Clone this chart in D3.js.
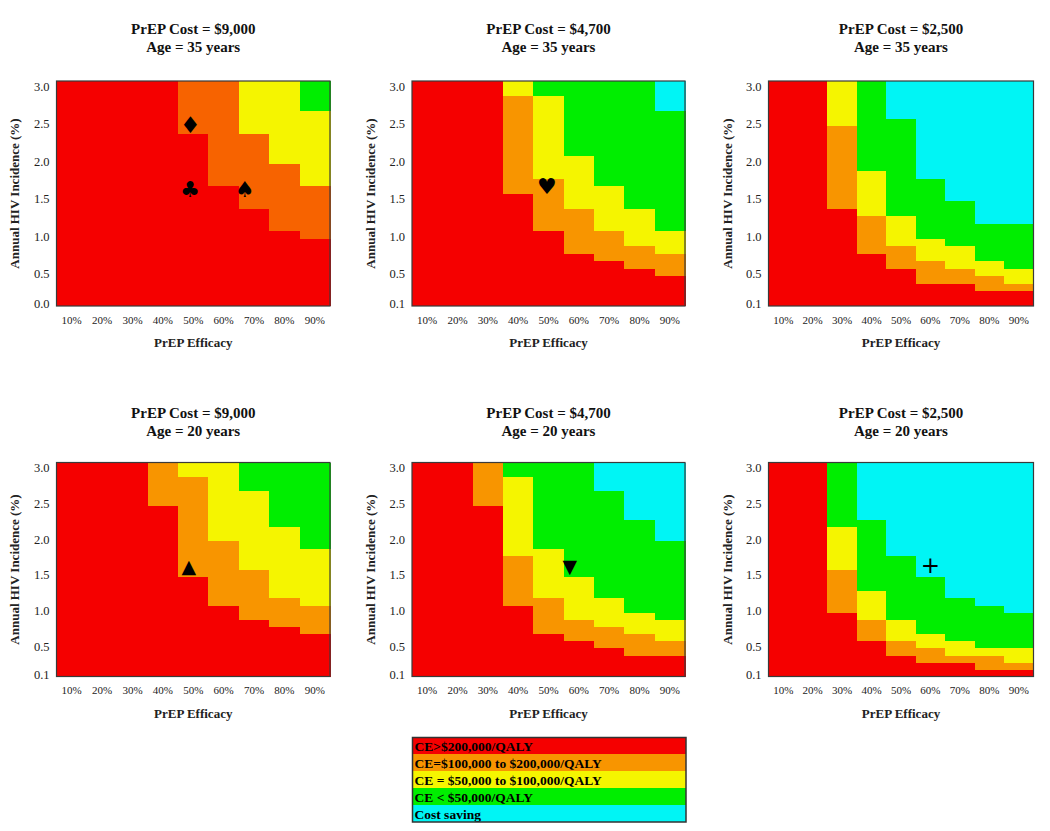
<!DOCTYPE html>
<html>
<head>
<meta charset="utf-8">
<script src="https://cdn.jsdelivr.net/npm/d3@7"></script>
<style>
  html, body { margin: 0; padding: 0; background: #ffffff; }
  svg { display: block; }
</style>
</head>
<body>
<svg id="chart" width="1050" height="831"></svg>
<script>
// ---------------- DATA ----------------
const efficacyLabels = ["10%", "20%", "30%", "40%", "50%", "60%", "70%", "80%", "90%"];
const efficacyValues = [10, 20, 30, 40, 50, 60, 70, 80, 90];
const incidenceValues = [0.1, 0.2, 0.3, 0.4, 0.5, 0.6, 0.7, 0.8, 0.9, 1.0,
                         1.1, 1.2, 1.3, 1.4, 1.5, 1.6, 1.7, 1.8, 1.9, 2.0,
                         2.1, 2.2, 2.3, 2.4, 2.5, 2.6, 2.7, 2.8, 2.9, 3.0];
const yTickValues = [3.0, 2.5, 2.0, 1.5, 1.0, 0.5, 0.1];
const yTickLabelsFirst = ["3.0", "2.5", "2.0", "1.5", "1.0", "0.5", "0.0"];
const yTickLabelsOther = ["3.0", "2.5", "2.0", "1.5", "1.0", "0.5", "0.1"];

const panelCostTitles = ["PrEP Cost = $9,000", "PrEP Cost = $4,700", "PrEP Cost = $2,500",
                         "PrEP Cost = $9,000", "PrEP Cost = $4,700", "PrEP Cost = $2,500"];
const panelAgeTitles = ["Age = 35 years", "Age = 35 years", "Age = 35 years",
                        "Age = 20 years", "Age = 20 years", "Age = 20 years"];

// Highest incidence (%) in each cost-effectiveness band, per efficacy column.
// Above greenTop the cell is "Cost saving".
// Panel 1: $9,000, age 35
const redTop1    = [3.0, 3.0, 3.0, 3.0, 2.3, 1.6, 1.3, 1.0, 0.9];
const orangeTop1 = [3.0, 3.0, 3.0, 3.0, 3.0, 3.0, 2.3, 1.9, 1.6];
const yellowTop1 = [3.0, 3.0, 3.0, 3.0, 3.0, 3.0, 3.0, 3.0, 2.6];
const greenTop1  = [3.0, 3.0, 3.0, 3.0, 3.0, 3.0, 3.0, 3.0, 3.0];
// Panel 2: $4,700, age 35
const redTop2    = [3.0, 3.0, 3.0, 1.5, 1.0, 0.7, 0.6, 0.5, 0.4];
const orangeTop2 = [3.0, 3.0, 3.0, 2.8, 1.7, 1.3, 1.0, 0.8, 0.7];
const yellowTop2 = [3.0, 3.0, 3.0, 3.0, 2.8, 2.0, 1.6, 1.3, 1.0];
const greenTop2  = [3.0, 3.0, 3.0, 3.0, 3.0, 3.0, 3.0, 3.0, 2.6];
// Panel 3: $2,500, age 35
const redTop3    = [3.0, 3.0, 1.3, 0.7, 0.5, 0.3, 0.3, 0.2, 0.2];
const orangeTop3 = [3.0, 3.0, 2.4, 1.2, 0.8, 0.6, 0.5, 0.4, 0.3];
const yellowTop3 = [3.0, 3.0, 3.0, 1.8, 1.2, 0.9, 0.8, 0.6, 0.5];
const greenTop3  = [3.0, 3.0, 3.0, 3.0, 2.5, 1.7, 1.4, 1.1, 1.1];
// Panel 4: $9,000, age 20
const redTop4    = [3.0, 3.0, 3.0, 2.4, 1.4, 1.0, 0.8, 0.7, 0.6];
const orangeTop4 = [3.0, 3.0, 3.0, 3.0, 2.8, 1.9, 1.5, 1.1, 1.0];
const yellowTop4 = [3.0, 3.0, 3.0, 3.0, 3.0, 3.0, 2.6, 2.1, 1.8];
const greenTop4  = [3.0, 3.0, 3.0, 3.0, 3.0, 3.0, 3.0, 3.0, 3.0];
// Panel 5: $4,700, age 20
const redTop5    = [3.0, 3.0, 2.4, 1.0, 0.6, 0.5, 0.4, 0.3, 0.3];
const orangeTop5 = [3.0, 3.0, 3.0, 1.7, 1.1, 0.8, 0.7, 0.6, 0.5];
const yellowTop5 = [3.0, 3.0, 3.0, 2.8, 1.8, 1.4, 1.1, 0.9, 0.8];
const greenTop5  = [3.0, 3.0, 3.0, 3.0, 3.0, 3.0, 2.6, 2.2, 1.9];
// Panel 6: $2,500, age 20
const redTop6    = [3.0, 3.0, 0.9, 0.5, 0.3, 0.2, 0.2, 0.1, 0.1];
const orangeTop6 = [3.0, 3.0, 1.5, 0.8, 0.5, 0.4, 0.3, 0.3, 0.2];
const yellowTop6 = [3.0, 3.0, 2.1, 1.2, 0.8, 0.6, 0.5, 0.4, 0.4];
const greenTop6  = [3.0, 3.0, 3.0, 2.2, 1.7, 1.4, 1.1, 1.0, 0.9];

// Markers (efficacy %, incidence %)
const markerSymbols   = ["\u2666", "\u2663", "\u2660", "\u2665", "\u25B2", "\u25BC", "+"];
const markerPanel     = [0, 0, 0, 1, 3, 4, 5];
const markerEfficacy  = [49, 49, 67, 49.5, 48.5, 57, 60];
const markerIncidence = [2.47, 1.6, 1.6, 1.65, 1.6, 1.6, 1.61];

const legendLabels = ["CE>$200,000/QALY", "CE=$100,000 to $200,000/QALY",
                      "CE = $50,000 to $100,000/QALY", "CE < $50,000/QALY", "Cost saving"];
const legendColors = ["#f50000", "#f89500", "#f5f500", "#00ee00", "#00f5f5"];
const panel1OrangeColor = "#f76300";

// ---------------- LAYOUT ----------------
const svg = d3.select("#chart");
const SERIF = "'Liberation Serif', 'Times New Roman', serif";

const panelsData = [
  [redTop1, orangeTop1, yellowTop1, greenTop1],
  [redTop2, orangeTop2, yellowTop2, greenTop2],
  [redTop3, orangeTop3, yellowTop3, greenTop3],
  [redTop4, orangeTop4, yellowTop4, greenTop4],
  [redTop5, orangeTop5, yellowTop5, greenTop5],
  [redTop6, orangeTop6, yellowTop6, greenTop6]
];

const colLeft = [56.5, 412, 768.5];
const colWidth = [273.5, 273, 265];
const rowTop = [81, 462.5];
const rowHeight = [225, 214];
const titleY = [34, 418];

const maxInc = incidenceValues[incidenceValues.length - 1];

panelsData.forEach((bands, p) => {
  const c = p % 3, r = Math.floor(p / 3);
  const W = colWidth[c], H = rowHeight[r];
  const g = svg.append("g").attr("transform", `translate(${colLeft[c]},${rowTop[r]})`);

  const x = d3.scaleBand().domain(efficacyLabels).range([0, W]).padding(0);
  const xLin = d3.scaleLinear().domain([efficacyValues[0] - 5, efficacyValues[8] + 5]).range([0, W]);
  const y = d3.scaleLinear().domain([incidenceValues[0] - 0.05, maxInc + 0.05]).range([H, 0]);

  const colors = legendColors.slice();
  if (p === 0) colors[1] = panel1OrangeColor;

  // build stacked cells per column
  const cells = [];
  efficacyLabels.forEach((lab, i) => {
    let prev = 0;
    const tops = [bands[0][i], bands[1][i], bands[2][i], bands[3][i], maxInc];
    tops.forEach((t, k) => {
      if (t > prev + 1e-9) {
        cells.push({ col: lab, lo: prev, hi: t, color: colors[k] });
      }
      prev = Math.max(prev, t);
    });
  });

  g.selectAll("rect.cell").data(cells).join("rect")
    .attr("class", "cell")
    .attr("shape-rendering", "crispEdges")
    .attr("x", d => x(d.col))
    .attr("width", x.bandwidth() + 0.6)
    .attr("y", d => y(d.hi + 0.05))
    .attr("height", d => y(d.lo + 0.05) - y(d.hi + 0.05) + 0.4)
    .attr("fill", d => d.color);

  g.append("rect").attr("x", 0).attr("y", 0).attr("width", W).attr("height", H)
    .attr("fill", "none").attr("stroke", "#3a3a3a").attr("stroke-width", 1.2);

  // x tick labels
  const xAxis = d3.axisBottom(x).tickSize(0).tickPadding(10);
  const xg = g.append("g").attr("transform", `translate(0,${H})`).call(xAxis);
  xg.select(".domain").remove();
  xg.selectAll("text").attr("font-family", SERIF).attr("font-size", 11).attr("fill", "#222");

  // y tick labels
  const yLabels = p === 0 ? yTickLabelsFirst : yTickLabelsOther;
  const yAxis = d3.axisLeft(y).tickValues(yTickValues).tickSize(0).tickPadding(7)
    .tickFormat((d, i) => yLabels[i]);
  const yg = g.append("g").call(yAxis);
  yg.select(".domain").remove();
  yg.selectAll("text").attr("font-family", SERIF).attr("font-size", 12.5).attr("fill", "#222")
    .attr("dy", "0.45em");

  // axis titles
  g.append("text").attr("x", W / 2).attr("y", H + 41)
    .attr("text-anchor", "middle").attr("font-family", SERIF).attr("font-weight", "bold")
    .attr("font-size", 13).attr("fill", "#222").text("PrEP Efficacy");
  const yTitleX = c === 0 ? -38 : -37;
  g.append("text")
    .attr("transform", `translate(${yTitleX},${H / 2}) rotate(-90)`)
    .attr("text-anchor", "middle").attr("font-family", SERIF).attr("font-weight", "bold")
    .attr("font-size", 13).attr("fill", "#222").text("Annual HIV Incidence (%)");

  // panel title
  svg.append("text").attr("x", colLeft[c] + W / 2).attr("y", titleY[r])
    .attr("text-anchor", "middle").attr("font-family", SERIF).attr("font-weight", "bold")
    .attr("font-size", 15).attr("fill", "#111").text(panelCostTitles[p]);
  svg.append("text").attr("x", colLeft[c] + W / 2).attr("y", titleY[r] + 18)
    .attr("text-anchor", "middle").attr("font-family", SERIF).attr("font-weight", "bold")
    .attr("font-size", 15).attr("fill", "#111").text(panelAgeTitles[p]);

  // markers
  markerSymbols.forEach((s, m) => {
    if (markerPanel[m] !== p) return;
    const size = s === "+" ? 23 : (s === "\u2666" ? 23 : (s === "\u25B2" || s === "\u25BC" ? 19 : 22));
    g.append("text")
      .attr("x", xLin(markerEfficacy[m]))
      .attr("y", y(markerIncidence[m]))
      .attr("text-anchor", "middle")
      .attr("dominant-baseline", "central")
      .attr("font-family", "'DejaVu Sans', sans-serif")
      .attr("font-size", size)
      .attr("fill", "#000")
      .text(s);
  });
});

// ---------------- LEGEND ----------------
const legX = 412.5, legY = 737.5, legW = 273.5, legRowH = 16.9;
const legScale = d3.scaleBand().domain(legendLabels).range([legY, legY + legRowH * legendLabels.length]);
const leg = svg.append("g");
leg.selectAll("rect.li").data(legendLabels).join("rect")
  .attr("class", "li")
  .attr("shape-rendering", "crispEdges")
  .attr("x", legX).attr("y", d => legScale(d))
  .attr("width", legW).attr("height", legScale.bandwidth() + 0.4)
  .attr("fill", (d, i) => legendColors[i]);
leg.selectAll("text").data(legendLabels).join("text")
  .attr("x", legX + 2).attr("y", d => legScale(d) + legScale.bandwidth() - 3.5)
  .attr("font-family", SERIF).attr("font-weight", "bold").attr("font-size", 13.5)
  .attr("fill", "#000").text(d => d);
leg.append("rect").attr("x", legX).attr("y", legY).attr("width", legW)
  .attr("height", legRowH * legendLabels.length)
  .attr("fill", "none").attr("stroke", "#333").attr("stroke-width", 1.5);
</script>
</body>
</html>
